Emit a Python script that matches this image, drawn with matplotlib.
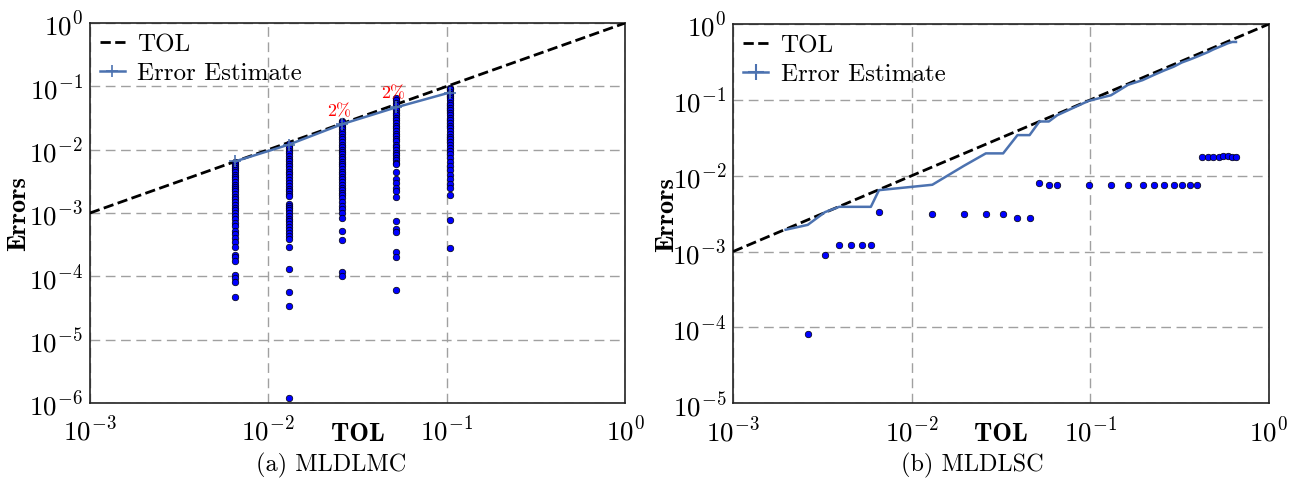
import numpy as np
import matplotlib.pyplot as plt
from matplotlib.lines import Line2D

plt.rcParams['font.family'] = ['cmr10', 'DejaVu Serif']
plt.rcParams['mathtext.fontset'] = 'cm'
plt.rcParams['axes.formatter.use_mathtext'] = True
plt.rcParams['axes.unicode_minus'] = False

# ------------------------------
# (a) MLDLMC data
# ------------------------------
tol_a = [0.0065, 0.013, 0.026, 0.052, 0.104]
est_a = [0.00653, 0.012, 0.0254, 0.0466, 0.080]

err_a1 = [6.4e-3, 6.0e-3, 5.6e-3, 5.2e-3, 4.8e-3, 4.4e-3, 4.0e-3, 3.7e-3, 3.4e-3, 3.1e-3,
          2.8e-3, 2.6e-3, 2.4e-3, 2.2e-3, 2.0e-3, 1.8e-3, 1.65e-3, 1.5e-3, 1.35e-3, 1.2e-3,
          1.1e-3, 1.0e-3, 9.0e-4, 8.0e-4, 7.0e-4, 6.3e-4, 5.2e-4, 4.6e-4, 4.0e-4, 3.5e-4,
          2.9e-4, 2.2e-4, 2.0e-4, 1.76e-4, 1.06e-4, 9.3e-5, 8.2e-5, 4.7e-5]
err_a2 = [0.0123, 0.0115, 0.0105, 0.0095, 0.0088, 0.008, 0.0072, 0.0066, 0.006, 0.0055,
          0.005, 0.0045, 0.0041, 0.0037, 0.0033, 0.003, 0.0027, 0.0024, 0.0022, 0.002,
          0.00187, 0.0014, 0.0013, 0.0012, 0.0011, 0.001, 9e-4, 8.2e-4, 7.5e-4, 6.8e-4,
          6.0e-4, 5.4e-4, 4.9e-4, 4.4e-4, 3.9e-4, 2.9e-4, 1.33e-4, 5.6e-5, 3.4e-5, 1.2e-6]
err_a3 = [0.0286, 0.027, 0.025, 0.023, 0.021, 0.019, 0.0175, 0.016, 0.0145, 0.013,
          0.012, 0.011, 0.01, 0.0092, 0.0085, 0.0078, 0.0071, 0.0065, 0.006, 0.0055,
          0.005, 0.0045, 0.0041, 0.0037, 0.0034, 0.0031, 0.0028, 0.0025, 0.0023, 0.0021,
          0.0019, 0.0017, 0.0015, 0.0013, 0.00115, 0.001, 8.5e-4, 5.3e-4, 3.8e-4, 1.18e-4,
          1.0e-4]
err_a4 = [0.0653, 0.06, 0.055, 0.05, 0.046, 0.042, 0.038, 0.035, 0.032, 0.029,
          0.026, 0.024, 0.022, 0.02, 0.018, 0.0165, 0.015, 0.0135, 0.012, 0.011,
          0.01, 0.009, 0.0082, 0.0075, 0.0068, 0.0062, 0.0059, 0.0044, 0.0035, 0.003,
          0.00245, 0.00225, 0.00178, 7.6e-4, 5.6e-4, 5.0e-4, 2.45e-4, 2.0e-4, 6.1e-5]
err_a5 = [0.096, 0.09, 0.083, 0.077, 0.071, 0.065, 0.06, 0.055, 0.05, 0.046,
          0.042, 0.038, 0.035, 0.032, 0.029, 0.026, 0.024, 0.022, 0.02, 0.018,
          0.016, 0.0145, 0.013, 0.0118, 0.0106, 0.0095, 0.0085, 0.0075, 0.0065, 0.0055,
          0.0047, 0.004, 0.0034, 0.0029, 0.0025, 0.00195, 7.8e-4, 2.8e-4]
err_a = [err_a1, err_a2, err_a3, err_a4, err_a5]

pct_tol = [0.025, 0.05]
pct_y = [0.041, 0.081]
pct_text = ['2%', '2%']

# ------------------------------
# (b) MLDLSC data
# ------------------------------
tol_b = [2.62e-3, 3.27e-3, 3.93e-3, 4.58e-3, 5.25e-3, 5.91e-3, 6.56e-3, 0.01305, 0.0196,
         0.026, 0.0325, 0.0391, 0.0457, 0.0519, 0.0586, 0.0653, 0.0977, 0.1305, 0.1626,
         0.196, 0.2277, 0.26, 0.293, 0.325, 0.359, 0.393, 0.42, 0.455, 0.488, 0.522,
         0.555, 0.586, 0.623, 0.653]
err_b = [8.2e-5, 9.1e-4, 1.21e-3, 1.21e-3, 1.21e-3, 1.21e-3, 3.34e-3, 3.12e-3, 3.12e-3,
         3.12e-3, 3.12e-3, 2.73e-3, 2.73e-3, 8.0e-3, 7.6e-3, 7.6e-3, 7.6e-3, 7.6e-3, 7.6e-3,
         7.6e-3, 7.6e-3, 7.6e-3, 7.6e-3, 7.6e-3, 7.6e-3, 7.6e-3, 0.0177, 0.0177, 0.0177,
         0.0174, 0.0183, 0.0183, 0.0176, 0.0176]
est_tol_b = [1.97e-3] + tol_b
est_b = [1.94e-3, 2.25e-3, 3.31e-3, 3.89e-3, 3.89e-3, 3.89e-3, 3.89e-3, 6.45e-3, 7.6e-3,
         0.0135, 0.0197, 0.0197, 0.0343, 0.0343, 0.0519, 0.0519, 0.0628, 0.097, 0.115,
         0.158, 0.182, 0.214, 0.245, 0.274, 0.311, 0.339, 0.369, 0.394, 0.426, 0.462,
         0.494, 0.525, 0.555, 0.58, 0.58]

tol_line = [1e-3, 1.0]

blue_line = '#4C72B0'

fig = plt.figure(figsize=(13.08, 4.81), dpi=100)
ax1 = fig.add_axes([0.0687, 0.160, 0.4092, 0.790])
ax2 = fig.add_axes([0.5604, 0.1595, 0.4098, 0.7885])


def style_axes(ax, ylim, ylab_x):
    ax.set_xscale('log')
    ax.set_yscale('log')
    ax.set_xlim(1e-3, 1)
    ax.set_ylim(*ylim)
    ax.grid(True, which='major', color='#a0a0a0', linestyle=(0, (7, 4)), linewidth=1)
    ax.minorticks_off()
    ax.tick_params(length=0, labelsize=19.5)
    ax.tick_params(axis='x', pad=9)
    ax.tick_params(axis='y', pad=5)
    for sp in ax.spines.values():
        sp.set_color('#222222')
        sp.set_linewidth(1.2)
    ax.set_xlabel('TOL', fontsize=19, family='cmb10')
    ax.set_ylabel('Errors', fontsize=19, family='cmb10')
    ax.xaxis.set_label_coords(0.5, -0.05)
    ax.yaxis.set_label_coords(ylab_x, 0.5)


# left panel
style_axes(ax1, (1e-6, 1), -0.112)
ax1.plot(tol_line, tol_line, 'k--', lw=2, label='TOL', zorder=3)
for t, errs in zip(tol_a, err_a):
    ax1.scatter([t] * len(errs), errs, s=22, color='#0000ff', edgecolors='black',
                linewidths=0.5, zorder=4)
ax1.plot(tol_a, est_a, color=blue_line, lw=1.8, marker='+', ms=8, mew=1.2,
         label='Error Estimate', zorder=5)
for t, yv, s in zip(pct_tol, pct_y, pct_text):
    ax1.text(t, yv, s, color='red', fontsize=13, ha='center', va='center', zorder=6)
ax1.legend(loc='upper left', frameon=False, fontsize=18, handlelength=1.0,
           handletextpad=0.5, labelspacing=0.25, borderaxespad=0.2, borderpad=0.2)

# right panel
style_axes(ax2, (1e-5, 1), -0.102)
ax2.plot(tol_line, tol_line, 'k--', lw=2, zorder=3)
ax2.plot(est_tol_b, est_b, color=blue_line, lw=1.8, zorder=4)
ax2.scatter(tol_b, err_b, s=22, color='#0000ff', edgecolors='black', linewidths=0.5,
            zorder=5)
handles = [Line2D([], [], color='k', ls='--', lw=2),
           Line2D([], [], color=blue_line, lw=1.8, marker='+', ms=12, mew=1.5)]
ax2.legend(handles, ['TOL', 'Error Estimate'], loc='upper left', frameon=False,
           fontsize=18, handlelength=1.0, handletextpad=0.5, labelspacing=0.25,
           borderaxespad=0.2, borderpad=0.2)

fig.text(0.253, 0.033, '(a) MLDLMC', fontsize=17.5, ha='center', va='center')
fig.text(0.743, 0.033, '(b) MLDLSC', fontsize=17.5, ha='center', va='center')

fig.savefig('out.png', dpi=100)
